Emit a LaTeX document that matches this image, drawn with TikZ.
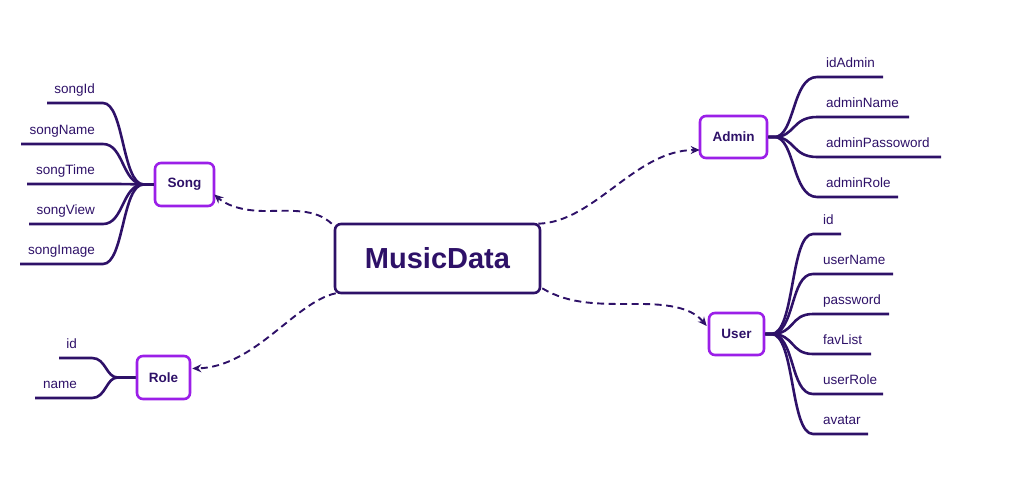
\documentclass[tikz,border=0pt]{standalone}
\usepackage{fontspec}
\setmainfont{Liberation Sans}
\usetikzlibrary{arrows.meta}
\definecolor{ink}{HTML}{2E1168}
\definecolor{vio}{HTML}{9B1FE8}
\tikzset{
  main/.style={draw=ink, line width=2.6pt, rounded corners=6pt, fill=white, minimum width=205pt, minimum height=69pt, inner sep=0pt, text=ink, font=\fontsize{29}{32}\selectfont\bfseries},
  ent/.style={draw=vio, line width=2.6pt, rounded corners=6pt, fill=white, inner sep=0pt, text=ink, font=\fontsize{13.5}{15}\selectfont\bfseries},
  leaf/.style={text=ink, inner sep=0pt, font=\fontsize{13.5}{15}\selectfont},
  branch/.style={draw=ink, line width=2.6pt},
  rel/.style={draw=ink, line width=1.9pt, dash pattern=on 7pt off 4.5pt, -{Stealth[length=9pt,width=8pt]}},
}
\begin{document}
\begin{tikzpicture}[x=1pt,y=-1pt]
\useasboundingbox (0,0) rectangle (1036,490);

% main and entity nodes
\node[main] (md) at (437.5,258.5) {MusicData};
\node[ent, minimum width=59pt, minimum height=43pt] (song) at (184.5,184.5) {Song};
\node[ent, minimum width=67pt, minimum height=42pt] (admin) at (733.5,137) {Admin};
\node[ent, minimum width=55pt, minimum height=42pt] (user) at (736.5,334) {User};
\node[ent, minimum width=53pt, minimum height=43pt] (role) at (163.5,377.5) {Role};

% dashed relations
\draw[rel] ([xshift=-2pt,yshift=-1pt]md.north west) .. controls (315,208) and (290,211) .. (265,211) .. controls (240,211) and (225,204) .. ([xshift=-1pt,yshift=-10pt]song.east);
\draw[rel] ([xshift=2pt,yshift=1pt]md.south west) .. controls (295,302) and (255,367) .. ([xshift=1pt,yshift=9pt]role.east);
\draw[rel] ([xshift=-3pt,yshift=-1pt]md.north east) .. controls (595,222) and (635,150) .. ([xshift=1pt,yshift=-13pt]admin.west);
\draw[rel] ([xshift=1pt,yshift=6pt]md.south east) .. controls (570,305) and (600,304) .. (640,304) .. controls (680,304) and (695,312) .. ([xshift=-1pt,yshift=8pt]user.west);

% Song attributes
\foreach \n/\y/\xs/\t in {s1/103/47/songId, s2/144/21/songName, s3/184/27/songTime, s4/224/29/songView, s5/264/20/songImage}{
  \coordinate (\n a) at (103,\y);
  \coordinate (\n b) at (\xs,\y);
  \node[leaf, anchor=base east] (\n) at (95,\y-10) {\t};
  \draw[branch] (song.west) -- ++(-10,0) .. controls (122,184) and (124,\y) .. (\n a) -- (\n b);
}

% Role attributes
\foreach \n/\y/\xs/\t in {r1/358/59/id, r2/398/35/name}{
  \coordinate (\n a) at (92,\y);
  \coordinate (\n b) at (\xs,\y);
  \node[leaf, anchor=base east] (\n) at (77,\y-10) {\t};
  \draw[branch] (role.west) -- ++(-18,0) .. controls (106,377.5) and (106,\y) .. (\n a) -- (\n b);
}

% Admin attributes
\foreach \n/\y/\xe/\t in {a1/77/883/idAdmin, a2/117/909/adminName, a3/157/941/adminPassoword, a4/197/898/adminRole}{
  \coordinate (\n a) at (817,\y);
  \coordinate (\n b) at (\xe,\y);
  \node[leaf, anchor=base west] (\n) at (826,\y-10) {\t};
  \draw[branch] (admin.east) -- ++(6,0) .. controls (795,137) and (792,\y) .. (\n a) -- (\n b);
}

% User attributes
\foreach \n/\y/\xe/\t in {u1/234/841/id, u2/274/893/userName, u3/314/889/password, u4/354/871/favList, u5/394/883/userRole, u6/434/868/avatar}{
  \coordinate (\n a) at (813,\y);
  \coordinate (\n b) at (\xe,\y);
  \node[leaf, anchor=base west] (\n) at (823,\y-10) {\t};
  \draw[branch] (user.east) -- ++(6,0) .. controls (795,334) and (790,\y) .. (\n a) -- (\n b);
}
\end{tikzpicture}
\end{document}
